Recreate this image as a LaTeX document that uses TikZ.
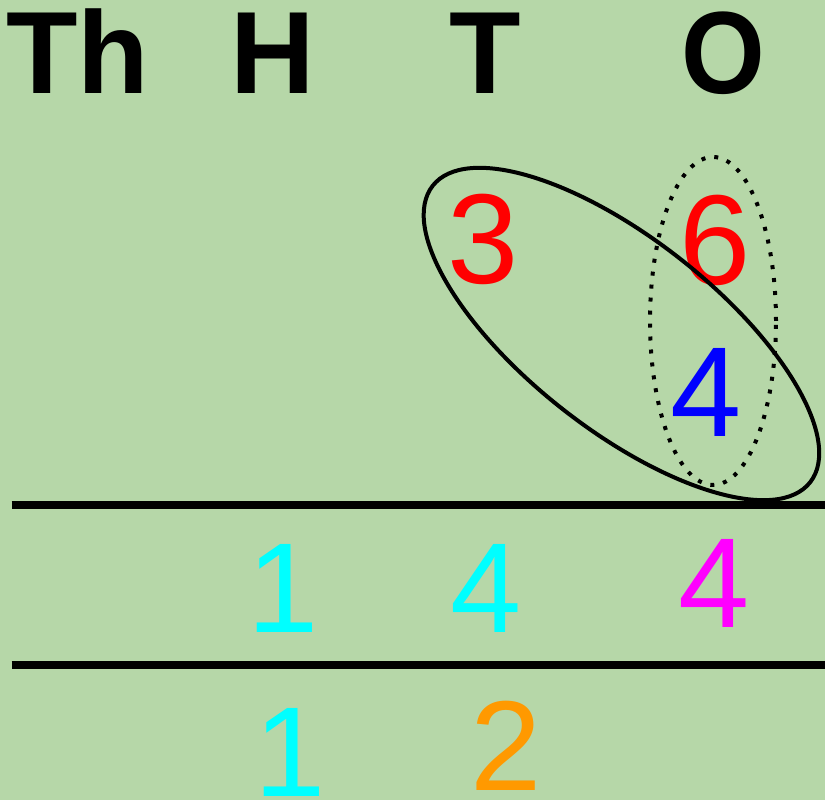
\documentclass[tikz,border=0pt]{standalone}
\usepackage{fontspec}
\setmainfont{Liberation Sans}
\definecolor{bg}{HTML}{B6D7A8}
\definecolor{dred}{HTML}{FF0000}
\definecolor{dblue}{HTML}{0000FF}
\definecolor{dcyan}{HTML}{00FFFF}
\definecolor{dmag}{HTML}{FF00FF}
\definecolor{dorange}{HTML}{FF9900}
\tikzset{
  hdr/.style={anchor=base, inner sep=0pt, font=\fontsize{117}{120}\selectfont\bfseries},
  dig/.style={anchor=base, inner sep=0pt, font=\fontsize{128}{130}\selectfont},
  rule/.style={line width=8pt},
}
\begin{document}
\begin{tikzpicture}[x=1pt,y=1pt]
\fill[bg] (0,0) rectangle (825,800);
\useasboundingbox (0,0) rectangle (825,800);
% headers
\node[hdr] (th) at (77.5,706) {Th};
\node[hdr] (h) at (273,706) {H};
\node[hdr] (t) at (485.5,706) {T};
\node[hdr, xscale=0.92] (o) at (723.5,706) {O};
% top digits
\node[dig, text=dred] (d3) at (483.5,516) {3};
\node[dig, text=dred] (d6) at (715.5,515) {6};
\node[dig, text=dblue] (d4) at (706.5,363) {4};
% rules
\coordinate (r1a) at (11.6,295);
\coordinate (r1b) at (825,295);
\coordinate (r2a) at (11.6,134.5);
\coordinate (r2b) at (825,134.5);
\draw[rule] (r1a) -- (r1b);
\draw[rule] (r2a) -- (r2b);
% second row
\node[dig, text=dcyan] (s1) at (283,167) {1};
\node[dig, text=dcyan] (s4) at (486.5,167) {4};
\node[dig, text=dmag] (s4b) at (714,172) {4};
% third row
\node[dig, text=dcyan] (c1) at (290,3) {1};
\node[dig, text=dorange] (c2) at (506,9) {2};
% ellipses
\coordinate (e1) at (621.5,466);
\coordinate (e2) at (713,479);
\draw[line width=4pt, rotate around={-38.15:(e1)}] (e1) ellipse [x radius=240, y radius=95.4];
\draw[line width=4pt, dash pattern=on 4pt off 9pt] (e2) ellipse [x radius=63, y radius=164];
\end{tikzpicture}
\end{document}
